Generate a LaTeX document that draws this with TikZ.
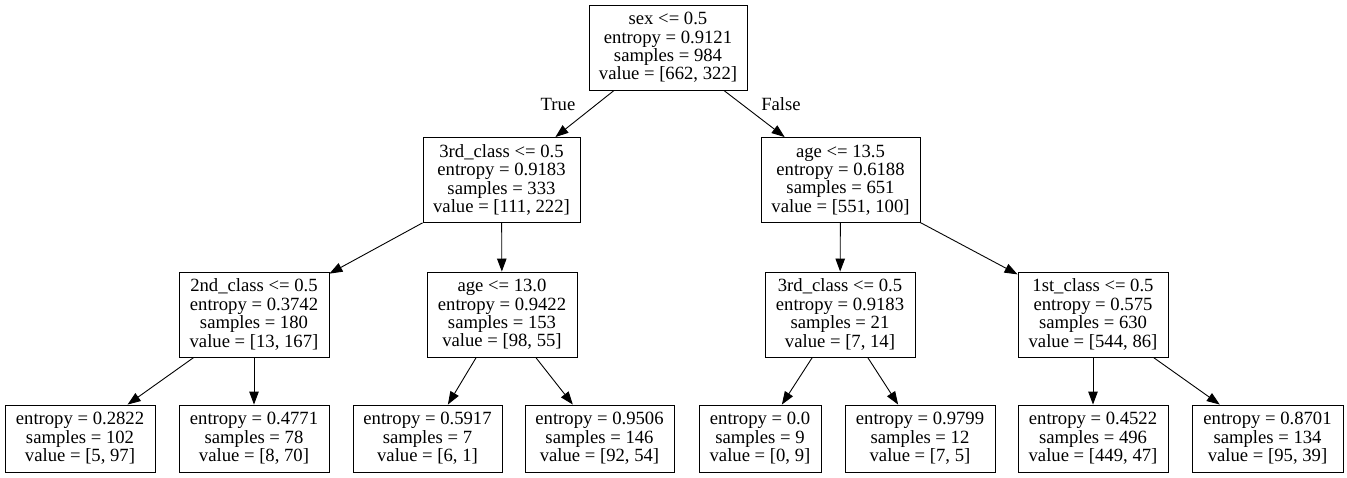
\documentclass[tikz,border=0pt]{standalone}
\usepackage{fontspec}
\setmainfont{Liberation Serif}
\usetikzlibrary{arrows.meta}

\begin{document}
\begin{tikzpicture}[x=1pt, y=-1pt,
	every node/.style={font=\fontsize{18.67}{18.4}\selectfont, align=center},
	split/.style={draw, line width=0.9pt, minimum height=85pt, inner sep=0pt},
	leaf/.style={draw, line width=0.9pt, minimum height=67pt, inner sep=0pt},
	edge/.style={line width=0.9pt, -{Triangle[length=13pt,width=9.5pt]}}]
		\useasboundingbox (0,0) rectangle (1347,477);
		\node[split, minimum width=158pt] (root)at(668,47.5) {sex <= 0.5\\entropy = 0.9121\\samples = 984\\value = [662, 322]};
		\node[split, minimum width=157pt] (n1)at(501.5,180) {3rd\_class <= 0.5\\entropy = 0.9183\\samples = 333\\value = [111, 222]};
		\node[split, minimum width=159pt] (n2)at(840.5,180) {age <= 13.5\\entropy = 0.6188\\samples = 651\\value = [551, 100]};
		\node[split, minimum width=150pt] (n3)at(254,314.5) {2nd\_class <= 0.5\\entropy = 0.3742\\samples = 180\\value = [13, 167]};
		\node[split, minimum width=150pt] (n4)at(502,314.5) {age <= 13.0\\entropy = 0.9422\\samples = 153\\value = [98, 55]};
		\node[split, minimum width=150pt] (n5)at(840,314.5) {3rd\_class <= 0.5\\entropy = 0.9183\\samples = 21\\value = [7, 14]};
		\node[split, minimum width=150pt] (n6)at(1093,314.5) {1st\_class <= 0.5\\entropy = 0.575\\samples = 630\\value = [544, 86]};
		\node[leaf, minimum width=150pt] (l1)at(80,438.5) {entropy = 0.2822\\samples = 102\\value = [5, 97]};
		\node[leaf, minimum width=150pt] (l2)at(254,438.5) {entropy = 0.4771\\samples = 78\\value = [8, 70]};
		\node[leaf, minimum width=149pt] (l3)at(427.5,438.5) {entropy = 0.5917\\samples = 7\\value = [6, 1]};
		\node[leaf, minimum width=149pt] (l4)at(599.5,438.5) {entropy = 0.9506\\samples = 146\\value = [92, 54]};
		\node[leaf, minimum width=122pt] (l5)at(760,438.5) {entropy = 0.0\\samples = 9\\value = [0, 9]};
		\node[leaf, minimum width=150pt] (l6)at(920,438.5) {entropy = 0.9799\\samples = 12\\value = [7, 5]};
		\node[leaf, minimum width=150pt] (l7)at(1093,438.5) {entropy = 0.4522\\samples = 496\\value = [449, 47]};
		\node[leaf, minimum width=151pt] (l8)at(1267.5,438.5) {entropy = 0.8701\\samples = 134\\value = [95, 39]};
		\node (true)at(558,104) {True};
		\node (false)at(781,104) {False};
		\draw[edge] (root) -- (n1);
		\draw[edge] (root) -- (n2);
		\draw[edge] (n1) -- (n3);
		\draw[edge] (n1) -- (n4);
		\draw[edge] (n2) -- (n5);
		\draw[edge] (n2) -- (n6);
		\draw[edge] (n3) -- (l1);
		\draw[edge] (n3) -- (l2);
		\draw[edge] (n4) -- (l3);
		\draw[edge] (n4) -- (l4);
		\draw[edge] (n5) -- (l5);
		\draw[edge] (n5) -- (l6);
		\draw[edge] (n6) -- (l7);
		\draw[edge] (n6) -- (l8);
	\end{tikzpicture}
\end{document}
